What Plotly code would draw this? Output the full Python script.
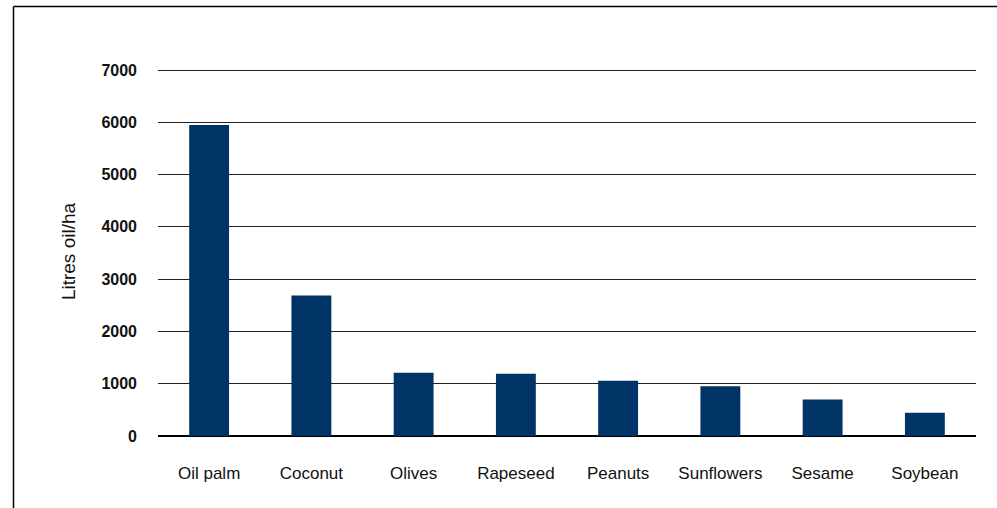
import plotly.graph_objects as go

crops = ["Oil palm", "Coconut", "Olives", "Rapeseed", "Peanuts", "Sunflowers", "Sesame", "Soybean"]
litres_per_ha = [5950, 2689, 1212, 1190, 1059, 952, 696, 446]
y_ticks = [0, 1000, 2000, 3000, 4000, 5000, 6000, 7000]

W, H = 997, 508
ML, MR, MT, MB = 158, 21, 67, 72
pw, ph = W - ML - MR, H - MT - MB
px_per_unit = 366 / 7000.0
y_top = ph / px_per_unit

def px_x(p):
    return (p - ML) / pw

def px_y(p):
    return (H - MB - p) / ph

fig = go.Figure(go.Bar(
    x=crops, y=litres_per_ha,
    marker=dict(color="#003366", line=dict(width=0)),
    width=0.39,
))

fig.update_layout(
    width=W, height=H,
    margin=dict(l=ML, r=MR, t=MT, b=MB, pad=0),
    paper_bgcolor="white", plot_bgcolor="white",
    showlegend=False,
    font=dict(family="Liberation Sans, Arial, sans-serif", color="#111111"),
    xaxis=dict(
        tickmode="array", tickvals=crops, ticktext=crops,
        tickfont=dict(size=17, color="#111111"),
        showgrid=False, showline=False, zeroline=False, ticks="",
        ticklabelstandoff=25,
    ),
    yaxis=dict(
        range=[0, y_top], tickmode="array", tickvals=y_ticks,
        ticktext=[str(v) for v in y_ticks],
        tickfont=dict(size=16, color="#111111", weight="bold"),
        showgrid=True, gridcolor="#222222", gridwidth=1,
        zeroline=True, zerolinecolor="#000000", zerolinewidth=1.5,
        showline=False, ticks="", ticklabelstandoff=20,
        title=dict(text="Litres oil/ha", font=dict(size=19, color="#111111"), standoff=20),
    ),
    shapes=[
        dict(type="line", xref="paper", yref="paper",
             x0=px_x(13.5), x1=px_x(W + 5), y0=px_y(6.5), y1=px_y(6.5),
             line=dict(color="black", width=1.5)),
        dict(type="line", xref="paper", yref="paper",
             x0=px_x(13.5), x1=px_x(13.5), y0=px_y(6.5), y1=px_y(H + 5),
             line=dict(color="black", width=1.5)),
    ],
)

fig.write_html("out.html")
